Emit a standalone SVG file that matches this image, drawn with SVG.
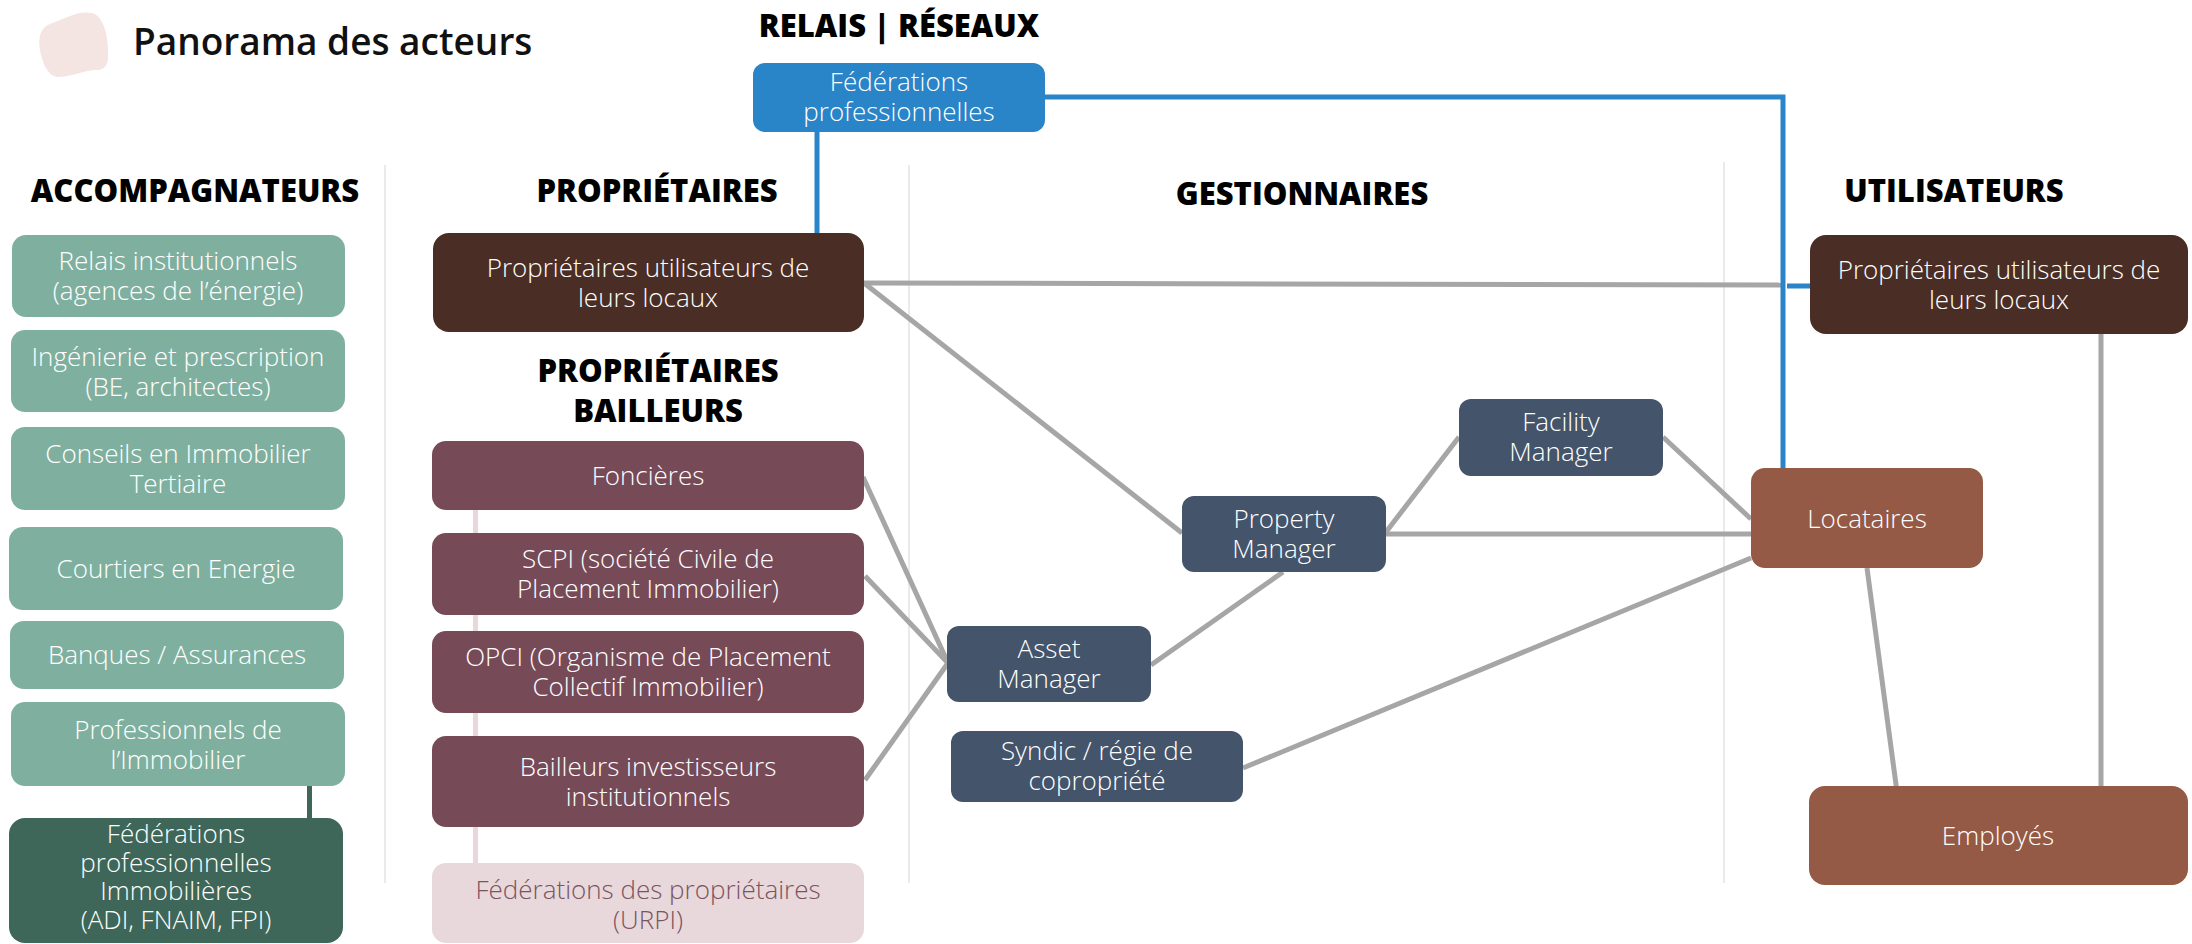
<svg xmlns="http://www.w3.org/2000/svg" width="2192" height="944" viewBox="0 0 2192 944">
<style>
.hd{font-family:"Open Sans","Liberation Sans",sans-serif;font-weight:800;font-size:31px;fill:#000;text-anchor:middle}
.t{font-family:"Open Sans","Liberation Sans",sans-serif;font-weight:300;font-size:26px;fill:#fff;text-anchor:middle}
.tp{fill:#7a5460}
.div{stroke:#e3e3e3;stroke-width:1.5;fill:none}
.c{stroke:#a6a6a6;stroke-width:5;fill:none}
.cb{stroke:#2a84c8;stroke-width:5;fill:none}
.green{fill:#7fb09f}
.dgreen{fill:#3e6759}
.maroon{fill:#774a57}
.pink{fill:#e8d8db}
.brown{fill:#4a2e25}
.navy{fill:#43546b}
.rust{fill:#955a45}
.blue{fill:#2a84c8}
</style>
<rect width="2192" height="944" fill="#fff"/>
<g id="title">
<path d="M50 24 C62 20 78 10 92 13 C104 16 109 38 108 58 C107 70 100 70 95 70 C82 71 70 77 58 77 C48 77 42 62 40 50 C38 38 40 28 50 24 Z" fill="#f4e4e2"/>
<text x="133" y="55" font-family="'Open Sans','Liberation Sans',sans-serif" font-weight="600" font-size="37" fill="#111">Panorama des acteurs</text>
</g>
<g id="headers">
<text class="hd" x="899" y="37">RELAIS | RÉSEAUX</text>
<text class="hd" x="195" y="202">ACCOMPAGNATEURS</text>
<text class="hd" x="657" y="202">PROPRIÉTAIRES</text>
<text class="hd" x="1302" y="205">GESTIONNAIRES</text>
<text class="hd" x="1954" y="202">UTILISATEURS</text>
<text class="hd" x="658" y="382">PROPRIÉTAIRES</text>
<text class="hd" x="658" y="422">BAILLEURS</text>
</g>
<g id="dividers">
<line class="div" x1="385" y1="165" x2="385" y2="883"/>
<line class="div" x1="909" y1="165" x2="909" y2="883"/>
<line class="div" x1="1724" y1="162" x2="1724" y2="883"/>
</g>
<g id="connectors">
<line x1="475.5" y1="505" x2="475.5" y2="866" stroke="#e8d8db" stroke-width="5"/>
<line x1="309.5" y1="782" x2="309.5" y2="822" stroke="#3e6759" stroke-width="5"/>
<line class="c" x1="864" y1="283" x2="1781" y2="285"/>
<line class="c" x1="864" y1="283" x2="1182" y2="533"/>
<line class="c" x1="1386" y1="532" x2="1459" y2="437"/>
<line class="c" x1="1663" y1="437" x2="1751" y2="519"/>
<line class="c" x1="1386" y1="534" x2="1751" y2="534"/>
<line class="c" x1="1151" y1="665" x2="1283" y2="572"/>
<line class="c" x1="1243" y1="768" x2="1751" y2="558"/>
<line class="c" x1="1867" y1="568" x2="1897" y2="792"/>
<line class="c" x1="2101" y1="334" x2="2101" y2="786"/>
<line class="c" x1="863" y1="477" x2="948" y2="663"/>
<line class="c" x1="865" y1="576" x2="948" y2="663"/>
<line class="c" x1="865" y1="780" x2="948" y2="663"/>
<line class="cb" x1="817" y1="130" x2="817" y2="235"/>
<polyline class="cb" points="1043,97 1783,97 1783,470"/>
<line class="cb" x1="1787" y1="286" x2="1812" y2="286"/>
</g>
<g id="n-relais"><rect class="green" x="12" y="235" width="333" height="82" rx="14"/><text class="t" x="178" y="270">Relais institutionnels</text><text class="t" x="178" y="300">(agences de l’énergie)</text></g>
<g id="n-ingenierie"><rect class="green" x="11" y="330" width="334" height="82" rx="14"/><text class="t" x="178" y="366">Ingénierie et prescription</text><text class="t" x="178" y="396">(BE, architectes)</text></g>
<g id="n-conseils"><rect class="green" x="11" y="427" width="334" height="83" rx="14"/><text class="t" x="178" y="463">Conseils en Immobilier</text><text class="t" x="178" y="493">Tertiaire</text></g>
<g id="n-courtiers"><rect class="green" x="9" y="527" width="334" height="83" rx="14"/><text class="t" x="176" y="578">Courtiers en Energie</text></g>
<g id="n-banques"><rect class="green" x="10" y="621" width="334" height="68" rx="14"/><text class="t" x="177" y="664">Banques / Assurances</text></g>
<g id="n-professionnels"><rect class="green" x="11" y="702" width="334" height="84" rx="14"/><text class="t" x="178" y="739">Professionnels de</text><text class="t" x="178" y="769">l’Immobilier</text></g>
<g id="n-federations-immo"><rect class="dgreen" x="9" y="818" width="334" height="125" rx="16"/><text class="t" x="176" y="843">Fédérations</text><text class="t" x="176" y="871.5">professionnelles</text><text class="t" x="176" y="900">Immobilières</text><text class="t" x="176" y="928.5">(ADI, FNAIM, FPI)</text></g>
<g id="n-fed-pro"><rect class="blue" x="753" y="63" width="292" height="69" rx="12"/><text class="t" x="899" y="91">Fédérations</text><text class="t" x="899" y="121">professionnelles</text></g>
<g id="n-prop-util"><rect class="brown" x="433" y="233" width="431" height="99" rx="16"/><text class="t" x="648" y="277">Propriétaires utilisateurs de</text><text class="t" x="648" y="307">leurs locaux</text></g>
<g id="n-foncieres"><rect class="maroon" x="432" y="441" width="432" height="69" rx="14"/><text class="t" x="648" y="485">Foncières</text></g>
<g id="n-scpi"><rect class="maroon" x="432" y="533" width="432" height="82" rx="14"/><text class="t" x="648" y="568">SCPI (société Civile de</text><text class="t" x="648" y="598">Placement Immobilier)</text></g>
<g id="n-opci"><rect class="maroon" x="432" y="631" width="432" height="82" rx="14"/><text class="t" x="648" y="666">OPCI (Organisme de Placement</text><text class="t" x="648" y="696">Collectif Immobilier)</text></g>
<g id="n-bailleurs"><rect class="maroon" x="432" y="736" width="432" height="91" rx="14"/><text class="t" x="648" y="776">Bailleurs investisseurs</text><text class="t" x="648" y="806">institutionnels</text></g>
<g id="n-fed-prop"><rect class="pink" x="432" y="863" width="432" height="80" rx="14"/><text class="t tp" x="648" y="899">Fédérations des propriétaires</text><text class="t tp" x="648" y="929">(URPI)</text></g>
<g id="n-property"><rect class="navy" x="1182" y="496" width="204" height="76" rx="12"/><text class="t" x="1284" y="528">Property</text><text class="t" x="1284" y="558">Manager</text></g>
<g id="n-facility"><rect class="navy" x="1459" y="399" width="204" height="77" rx="12"/><text class="t" x="1561" y="431">Facility</text><text class="t" x="1561" y="461">Manager</text></g>
<g id="n-asset"><rect class="navy" x="947" y="626" width="204" height="76" rx="12"/><text class="t" x="1049" y="658">Asset</text><text class="t" x="1049" y="688">Manager</text></g>
<g id="n-syndic"><rect class="navy" x="951" y="731" width="292" height="71" rx="12"/><text class="t" x="1097" y="760">Syndic / régie de</text><text class="t" x="1097" y="790">copropriété</text></g>
<g id="n-locataires"><rect class="rust" x="1751" y="468" width="232" height="100" rx="14"/><text class="t" x="1867" y="528">Locataires</text></g>
<g id="n-prop-util-2"><rect class="brown" x="1810" y="235" width="378" height="99" rx="16"/><text class="t" x="1999" y="279">Propriétaires utilisateurs de</text><text class="t" x="1999" y="309">leurs locaux</text></g>
<g id="n-employes"><rect class="rust" x="1809" y="786" width="379" height="99" rx="16"/><text class="t" x="1998" y="845">Employés</text></g>
</svg>
